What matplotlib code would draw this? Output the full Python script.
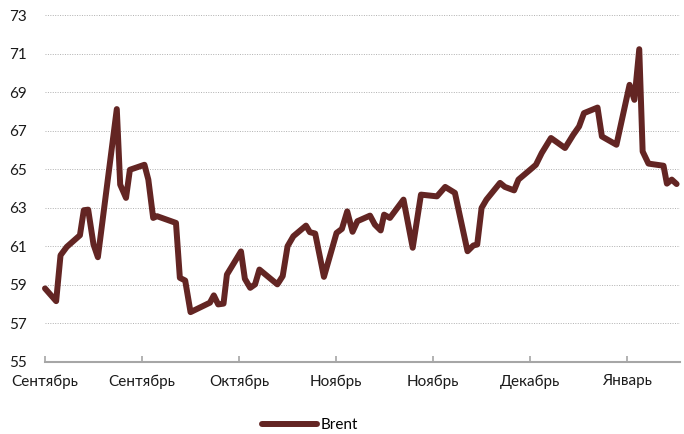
import matplotlib.pyplot as plt

plt.rcParams['font.family'] = ['Lato', 'DejaVu Sans']

# position along the axis (trading days) and Brent price
days = [0, 2.3, 3.2, 4.5, 7.2, 8.0, 8.9, 10.0, 10.9, 14.8, 15.5, 16.7, 17.5,
        20.5, 21.3, 22.3, 23.1, 27.0, 27.8, 28.9, 30.0, 34.0, 34.8, 35.7,
        36.8, 37.5, 40.4, 41.2, 42.3, 43.3, 44.2, 47.9, 49.0, 50.0, 51.2,
        53.8, 54.6, 55.7, 57.5, 60.1, 61.2, 62.3, 63.4, 64.4, 67.0, 68.0,
        69.2, 69.9, 71.1, 73.9, 75.8, 77.5, 80.8, 82.5, 84.5, 87.1, 88.3,
        89.1, 90.0, 91.0, 93.8, 94.8, 96.7, 97.6, 100.0, 101.2, 102.4, 104.3,
        107.2, 108.9, 110.1, 111.1, 113.9, 114.8, 117.8, 120.5, 121.5, 122.5,
        123.2, 124.4, 127.5, 128.2, 129.2, 130.2]
brent = [58.82, 58.16, 60.54, 60.98, 61.58, 62.88, 62.91, 61.10, 60.44, 68.13,
         64.21, 63.52, 64.98, 65.24, 64.47, 62.48, 62.57, 62.22, 59.37, 59.23,
         57.59, 58.08, 58.46, 57.99, 58.03, 59.54, 60.74, 59.32, 58.85, 59.03,
         59.80, 59.03, 59.46, 61.01, 61.53, 62.08, 61.74, 61.67, 59.42, 61.70,
         61.91, 62.82, 61.76, 62.31, 62.60, 62.13, 61.83, 62.65, 62.48, 63.43,
         60.93, 63.69, 63.60, 64.09, 63.78, 60.75, 61.05, 61.10, 63.00, 63.43,
         64.30, 64.09, 63.91, 64.47, 64.98, 65.24, 65.85, 66.63, 66.11, 66.80,
         67.23, 67.92, 68.21, 66.71, 66.28, 69.39, 68.61, 71.24, 65.93, 65.30,
         65.19, 64.26, 64.47, 64.24]

tick_pos = [0, 20, 40, 60, 80, 100, 120]
tick_lab = ['Сентябрь', 'Сентябрь', 'Октябрь', 'Ноябрь', 'Ноябрь', 'Декабрь', 'Январь']
y_ticks = [55, 57, 59, 61, 63, 65, 67, 69, 71, 73]

fig = plt.figure(figsize=(6.84, 4.34), dpi=100)
ax = fig.add_axes([45/684, 1-362/434, 635/684, (362-15.3)/434])

ax.plot(days, brent, color='#632523', lw=4.3, solid_joinstyle='round',
        solid_capstyle='round', label='Brent', clip_on=False)

ax.set_xlim(0, 130.9)
ax.set_ylim(55, 73)
ax.set_yticks(y_ticks)
ax.set_xticks(tick_pos)
ax.set_xticklabels(tick_lab)
for v in y_ticks[1:]:
    ax.axhline(v, color='#b0b0b0', lw=0.7, ls=(0, (1, 1.5)), zorder=0)

for s in ['top', 'right', 'left']:
    ax.spines[s].set_visible(False)
ax.spines['bottom'].set_color('#a6a6a6')
ax.spines['bottom'].set_linewidth(1.5)
ax.tick_params(axis='x', direction='in', length=4, width=1.2, color='#a6a6a6',
               pad=9, labelsize=11, labelcolor='#1a1a1a')
ax.tick_params(axis='y', length=0, pad=13, labelsize=11, labelcolor='#1a1a1a')

ax.legend(loc='center', bbox_to_anchor=(310/684, 1-425/434), bbox_transform=fig.transFigure,
          frameon=False, fontsize=11, handlelength=3.6, handletextpad=0.3)

fig.savefig('out.png', dpi=100)
